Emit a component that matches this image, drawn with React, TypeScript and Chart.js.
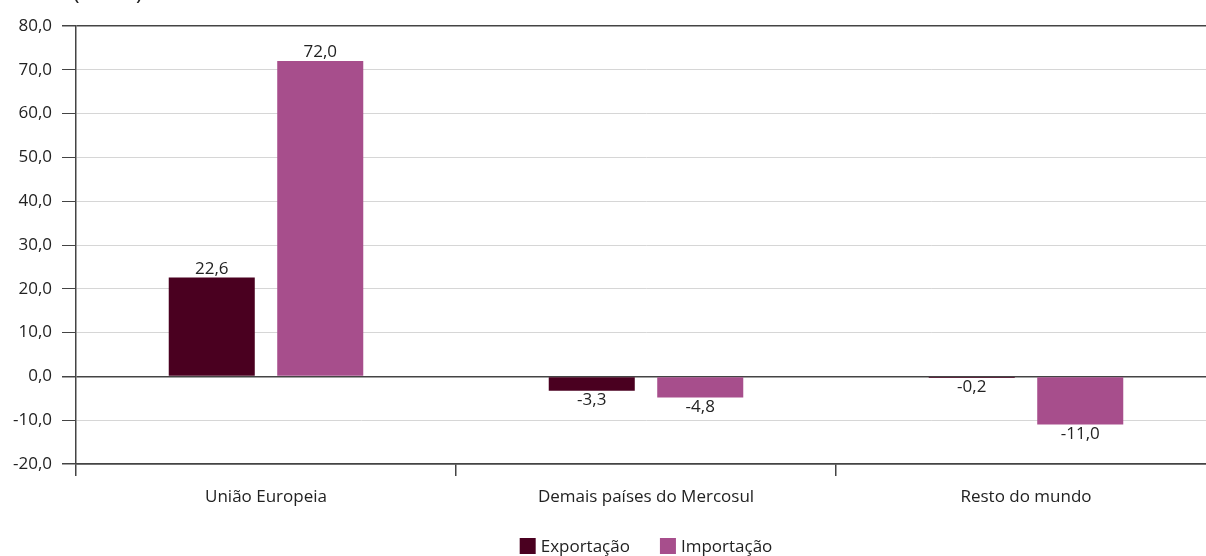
import React, { useEffect, useRef } from 'react';
import { Chart, registerables } from 'chart.js';

Chart.register(...registerables);

const categories = ['União Europeia', 'Demais países do Mercosul', 'Resto do mundo'];
const exportacao = [22.6, -3.3, -0.2];
const importacao = [72.0, -4.8, -11.0];
const seriesNames = ['Exportação', 'Importação'];
const seriesColors = ['#4a0020', '#a74e8c'];
const yMin = -20;
const yMax = 80;
const yStep = 10;
const unitLabel = '(Em %)';

const FONT = "'Open Sans', 'Noto Sans', sans-serif";
const FS = 17;
const TEXT = '#222222';
const DARK = '#444444';
const LIGHT = '#d6d6d6';

const fmt = (v: number) => v.toFixed(1).replace('.', ',');

const valueLabels = {
  id: 'valueLabels',
  afterDatasetsDraw(chart: any) {
    const ctx = chart.ctx;
    ctx.save();
    ctx.font = `${FS}px ${FONT}`;
    ctx.fillStyle = TEXT;
    ctx.textAlign = 'center';
    chart.data.datasets.forEach((ds: any, i: number) => {
      const meta = chart.getDatasetMeta(i);
      meta.data.forEach((bar: any, j: number) => {
        const v = ds.data[j] as number;
        if (v >= 0) {
          ctx.textBaseline = 'bottom';
          ctx.fillText(fmt(v), bar.x, bar.y);
        } else {
          ctx.textBaseline = 'top';
          ctx.fillText(fmt(v), bar.x, bar.y + 1);
        }
      });
    });
    ctx.restore();
  },
};

const extras = {
  id: 'extras',
  afterDraw(chart: any) {
    const ctx = chart.ctx;
    const area = chart.chartArea;
    ctx.save();
    // unit label (cropped at top)
    ctx.font = `22px ${FONT}`;
    ctx.fillStyle = TEXT;
    ctx.textAlign = 'left';
    ctx.textBaseline = 'alphabetic';
    ctx.fillText(unitLabel, 73, -0.5);
    // legend
    ctx.font = `${FS}px ${FONT}`;
    const box = 16;
    const gap = 5;
    const spacing = 30;
    const items = chart.data.datasets.map((ds: any) => ({
      label: ds.label as string,
      color: ds.backgroundColor as string,
      w: box + gap + ctx.measureText(ds.label).width,
    }));
    const total = items.reduce((s: number, it: any) => s + it.w, 0) + spacing * (items.length - 1);
    let x = (area.left + area.right) / 2 - total / 2;
    const yTop = 538;
    ctx.textBaseline = 'middle';
    items.forEach((it: any) => {
      ctx.fillStyle = it.color;
      ctx.fillRect(x, yTop, box, box);
      ctx.fillStyle = TEXT;
      ctx.fillText(it.label, x + box + gap, yTop + box / 2 + 1);
      x += it.w + spacing;
    });
    ctx.restore();
  },
};

export default function App() {
  const canvasRef = useRef<HTMLCanvasElement | null>(null);

  useEffect(() => {
    if (!canvasRef.current) return;
    const isDark = (v: number) => v === yMax || v === 0 || v === yMin;
    const chart = new Chart(canvasRef.current, {
      type: 'bar',
      data: {
        labels: categories,
        datasets: [
          {
            label: seriesNames[0],
            data: exportacao,
            backgroundColor: seriesColors[0],
            borderWidth: 0,
            minBarLength: 1.5,
            categoryPercentage: 0.571,
            barPercentage: 0.793,
          },
          {
            label: seriesNames[1],
            data: importacao,
            backgroundColor: seriesColors[1],
            borderWidth: 0,
            categoryPercentage: 0.571,
            barPercentage: 0.793,
          },
        ],
      },
      options: {
        animation: false,
        responsive: true,
        maintainAspectRatio: false,
        layout: { padding: { top: 26, right: 14, left: 0, bottom: 0 } },
        plugins: {
          legend: { display: false },
          tooltip: { enabled: false },
          title: { display: false },
        },
        scales: {
          x: {
            type: 'category',
            offset: true,
            grid: {
              offset: true,
              drawOnChartArea: false,
              drawTicks: true,
              tickLength: 12,
              color: DARK,
              lineWidth: 1.5,
            },
            border: { display: true, color: DARK, width: 1.5 },
            ticks: {
              color: TEXT,
              font: { family: FONT, size: FS },
              padding: 11,
              maxRotation: 0,
            },
            afterFit(scale: any) {
              scale.height = 92;
            },
          },
          y: {
            min: yMin,
            max: yMax,
            ticks: {
              stepSize: yStep,
              color: TEXT,
              font: { family: FONT, size: FS },
              padding: 10,
              callback: (v: any) => fmt(Number(v)),
            },
            grid: {
              color: (c: any) => (c.tick && isDark(c.tick.value) ? DARK : LIGHT),
              lineWidth: (c: any) => (c.tick && isDark(c.tick.value) ? 1.5 : 1),
              tickColor: DARK,
              tickLength: 14,
              drawTicks: true,
            },
            border: { display: true, color: DARK, width: 1.5 },
            afterFit(scale: any) {
              scale.width = 76;
            },
          },
        },
      },
      plugins: [valueLabels, extras],
    });
    return () => chart.destroy();
  }, []);

  return (
    <div
      style={{
        position: 'fixed',
        left: 0,
        top: 0,
        width: 1206,
        height: 556,
        overflow: 'hidden',
        background: '#fff',
      }}
    >
      <div style={{ position: 'relative', width: 1230, height: 556 }}>
        <canvas ref={canvasRef} />
      </div>
    </div>
  );
}
